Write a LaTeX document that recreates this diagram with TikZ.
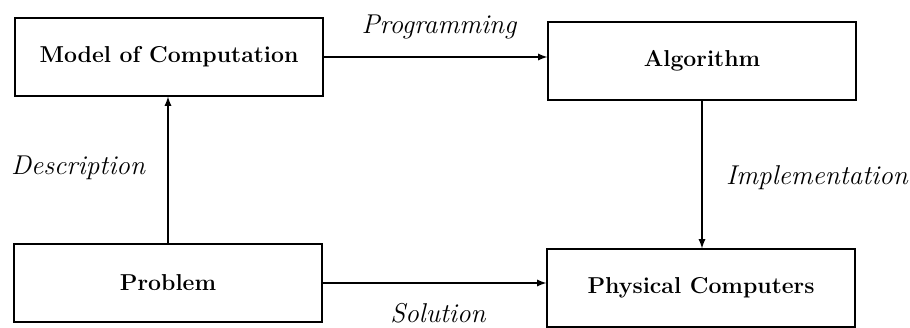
\documentclass[tikz,border=0pt]{standalone}
\usetikzlibrary{calc}

\tikzset{
  block/.style={draw, line width=0.6pt, minimum width=154pt, minimum height=39pt,
    inner sep=0pt, font=\fontsize{11.5}{13}\selectfont\bfseries},
  flow/.style={->, >=latex, line width=0.6pt},
  lbl/.style={inner sep=0pt, font=\fontsize{13.6}{15}\selectfont\itshape}
}

\begin{document}
\begin{tikzpicture}[x=0.5pt, y=-0.5pt]
    \useasboundingbox (0,0) rectangle (910,327);
    % the four boxes
    \node [block] (model) at (169,57) {Model of Computation};
    \node [block] (algo) at (702,61) {Algorithm};
    \node [block] (problem) at (168,283) {Problem};
    \node [block] (phys) at (701,288) {Physical Computers};
    % edge labels
    \node [lbl] (prog) at (439,27) {Programming};
    \node [lbl] (desc) at (78,168) {Description};
    \node [lbl] (impl) at (817,178) {Implementation};
    \node [lbl] (sol) at (438,313) {Solution};
    % connectors
    \draw [flow] (model.east) -- (model.east -| algo.west);
    \draw [flow] (problem.north) -- (problem.north |- model.south);
    \draw [flow] (algo.south) -- (algo.south |- phys.north);
    \draw [flow] (problem.east) -- (problem.east -| phys.west);
\end{tikzpicture}
\end{document}
